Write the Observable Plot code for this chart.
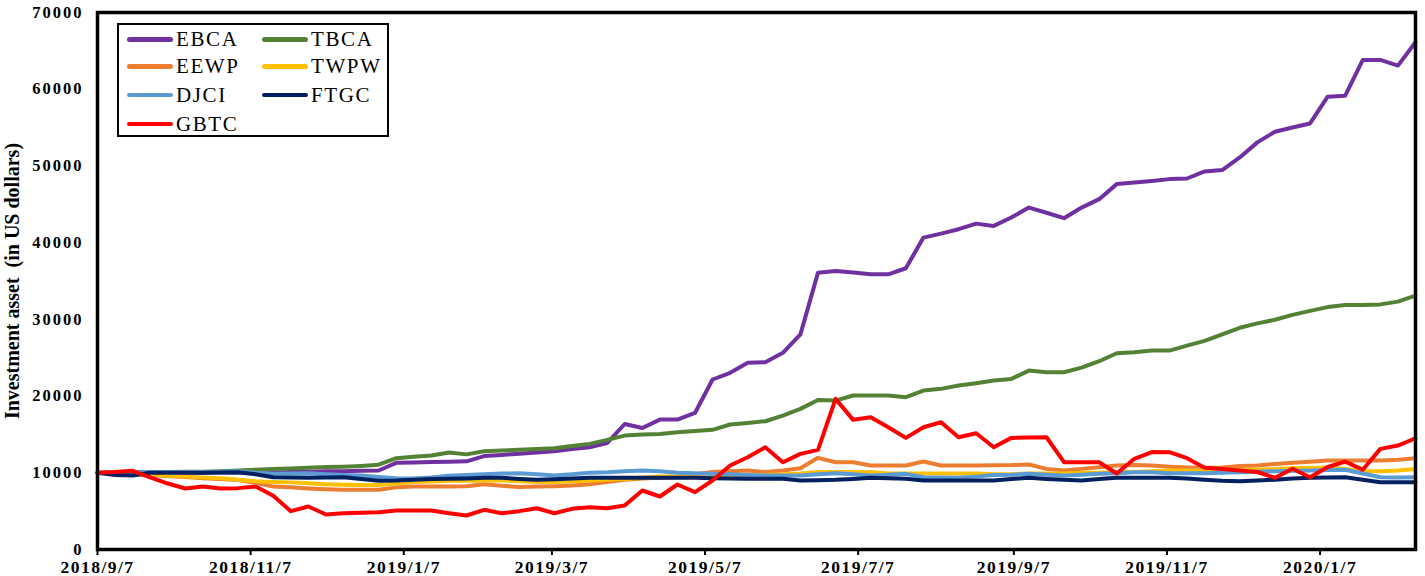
<!DOCTYPE html>
<html>
<head>
<meta charset="utf-8">
<script src="https://cdn.jsdelivr.net/npm/d3@7"></script>
<script src="https://cdn.jsdelivr.net/npm/@observablehq/plot@0.6"></script>
<style>
  html, body { margin: 0; padding: 0; background: #fff; }
  #wrap { position: relative; width: 1425px; height: 576px; }
  #legend { position: absolute; left: 117px; top: 23px; width: 272px; height: 114px;
            border: 2.7px solid #000; box-sizing: border-box; background: #fff; }
  .item { position: absolute; display: flex; align-items: center; height: 26px; transform: translateY(-50%);
          font-family: "Liberation Serif", "Times New Roman", serif; font-size: 21px; letter-spacing: 1.6px; color: #000; }
  .item .sw { display: inline-block; width: 46px; height: 4.5px; border-radius: 3px; margin-right: 3px; }
  g[aria-label="x-axis tick label"] text { letter-spacing: 1.5px; }
  g[aria-label="y-axis tick label"] text { letter-spacing: 2px; }
  g[aria-label="y-axis label"] text { white-space: pre; }
</style>
</head>
<body>
<div id="wrap"><div id="legend"></div></div>
<script>
const dates = [
  "2018-09-07","2018-09-14","2018-09-21","2018-09-28","2018-10-05","2018-10-12","2018-10-19","2018-10-26",
  "2018-11-02","2018-11-09","2018-11-16","2018-11-23","2018-11-30","2018-12-07","2018-12-14","2018-12-21",
  "2018-12-28","2019-01-04","2019-01-11","2019-01-18","2019-01-25","2019-02-01","2019-02-08","2019-02-15",
  "2019-02-22","2019-03-01","2019-03-08","2019-03-15","2019-03-22","2019-03-29","2019-04-05","2019-04-12",
  "2019-04-19","2019-04-26","2019-05-03","2019-05-10","2019-05-17","2019-05-24","2019-05-31","2019-06-07",
  "2019-06-14","2019-06-21","2019-06-28","2019-07-05","2019-07-12","2019-07-19","2019-07-26","2019-08-02",
  "2019-08-09","2019-08-16","2019-08-23","2019-08-30","2019-09-06","2019-09-13","2019-09-20","2019-09-27",
  "2019-10-04","2019-10-11","2019-10-18","2019-10-25","2019-11-01","2019-11-08","2019-11-15","2019-11-22",
  "2019-11-29","2019-12-06","2019-12-13","2019-12-20","2019-12-27","2020-01-03","2020-01-10","2020-01-17",
  "2020-01-24","2020-01-31","2020-02-07","2020-02-14"
];

const EBCA = [
  10000, 9950,10000,10000,10000,10000,10000,10050,10050,10050,
  10050,10100,10150,10200,10200,10250,10300,11300,11330,11400,
  11450,11490,12180,12330,12480,12650,12800,13100,13330,13880,
  16360,15840,16930,16930,17800,22160,23030,24330,24420,25640,
  28040,36090,36310,36100,35870,35870,36660,40660,41180,41750,
  42480,42180,43270,44570,43900,43190,44570,45670,47630,47840,
  48050,48280,48360,49280,49460,51110,53070,54460,55000,55540,
  59030,59160,63820,63820,63080,66120
];
const TBCA = [
  10000,10000,10050,10100,10100,10150,10150,10200,10300,10400,
  10500,10550,10650,10750,10800,10900,11050,11900,12100,12250,
  12650,12400,12800,12900,13000,13100,13200,13500,13770,14290,
  14850,15000,15070,15290,15450,15600,16290,16500,16720,17460,
  18330,19500,19410,20070,20070,20070,19850,20720,20940,21370,
  21670,22020,22240,23320,23100,23100,23700,24540,25580,25700,
  25930,25930,26580,27200,28050,28900,29480,29950,30590,31100,
  31600,31880,31880,31950,32310,33100
];
const EEWP = [
  10000, 9950, 9800, 9700, 9550, 9450, 9300, 9200, 9050, 8700,
   8200, 8100, 7950, 7850, 7800, 7800, 7800, 8100, 8200, 8200,
   8200, 8250, 8500, 8300, 8150, 8200, 8250, 8350, 8500, 8800,
   9100, 9250, 9350, 9420, 9800,10100,10200,10290,10100,10300,
  10600,11950,11380,11380,10950,10950,10950,11470,10950,10950,
  10950,10980,11000,11080,10510,10290,10510,10720,10950,11000,
  10950,10800,10700,10650,10700,10900,10950,11160,11300,11450,
  11600,11600,11600,11600,11700,11900
];
const TWPW = [
  10000,10000,10000, 9800, 9600, 9500, 9400, 9300, 9100, 8900,
   8800, 8750, 8650, 8500, 8450, 8400, 8400, 8600, 8800, 8850,
   8950, 8950, 9000, 9000, 8900, 8800, 8800, 8850, 9000, 9100,
   9200, 9400, 9500, 9500, 9600, 9600, 9700, 9700, 9700, 9800,
   9900,10100,10100,10100,10100, 9900, 9900, 9900, 9900, 9900,
   9900, 9800, 9800, 9900, 9900, 9900,10000,10000,10100,10100,
  10200,10300,10300,10300,10350,10400,10400,10500,10600,10650,
  10650,10500,10200,10200,10300,10500
];
const DJCI = [
  10000,10000,10100,10100,10100,10100,10100,10150,10200,10000,
   9860, 9900, 9940, 9800, 9700, 9640, 9450, 9300, 9250, 9400,
   9600, 9700, 9800, 9900, 9940, 9800, 9640, 9800,10000,10070,
  10200,10290,10200,10000, 9940, 9860, 9800, 9700, 9640, 9640,
   9640, 9800, 9940, 9800, 9640, 9750, 9860, 9420, 9380, 9340,
   9500, 9700, 9750, 9860, 9750, 9640, 9750, 9860, 9950,10070,
  10070, 9940, 9940, 9940,10000,10070,10150,10200,10250,10290,
  10350,10390, 9900, 9420, 9400, 9420
];
const FTGC = [
  10000, 9700, 9650,10000,10000,10000,10000,10050,10070, 9800,
   9420, 9380, 9340, 9380, 9420, 9200, 8950, 8990, 9100, 9200,
   9210, 9250, 9340, 9340, 9200, 9080, 9150, 9250, 9340, 9340,
   9340, 9340, 9340, 9340, 9340, 9300, 9250, 9220, 9210, 9210,
   8990, 9030, 9080, 9200, 9340, 9280, 9210, 8990, 8990, 8990,
   8990, 9000, 9200, 9340, 9200, 9080, 8990, 9200, 9340, 9340,
   9340, 9340, 9250, 9080, 8950, 8900, 9000, 9100, 9250, 9340,
   9400, 9420, 9100, 8770, 8770, 8770
];
const GBTC = [
  10000,10100,10250, 9400, 8600, 7950, 8200, 7950, 8000, 8200,
   7000, 5000, 5600, 4560, 4730, 4800, 4860, 5080, 5080, 5080,
   4730, 4430, 5170, 4730, 5000, 5380, 4730, 5300, 5510, 5380,
   5730, 7690, 6910, 8470, 7470, 8990,10950,12030,13330,11380,
  12470,12990,19630,16900,17240,15940,14550,15940,16590,14630,
  15160,13330,14550,14600,14630,11380,11380,11380, 9900,11820,
  12700,12680,11900,10650,10500,10300,10100, 9340,10520, 9420,
  10750,11450,10390,13120,13550,14500
];

const seriesNames  = ["EBCA","TBCA","EEWP","TWPW","DJCI","FTGC","GBTC"];
const seriesValues = [EBCA, TBCA, EEWP, TWPW, DJCI, FTGC, GBTC];
const seriesColors = ["#7030A0","#548235","#ED7D31","#FFC000","#5B9BD5","#002060","#FF0000"];
const xTicks = ["2018-09-07","2018-11-07","2019-01-07","2019-03-07","2019-05-07","2019-07-07","2019-09-07","2019-11-07","2020-01-07"];
const yTicks = [0,10000,20000,30000,40000,50000,60000,70000];
const xDomain = ["2018-09-07","2020-02-14"];
const yLabel = "Investment asset  (in US dollars)";

const rows = seriesNames.map((name, k) =>
  dates.map((d, i) => ({date: new Date(d), value: seriesValues[k][i], series: name})));

const serif = "'Liberation Serif', 'Times New Roman', serif";

const chart = Plot.plot({
  width: 1425,
  height: 576,
  marginLeft: 97,
  marginRight: 10,
  marginTop: 12,
  marginBottom: 27,
  style: {fontFamily: serif, fontWeight: "bold", color: "#000", background: "#fff", overflow: "visible"},
  x: {type: "utc", domain: xDomain.map(d => new Date(d))},
  y: {domain: [0, 70000]},
  color: {domain: seriesNames, range: seriesColors},
  marks: [
    ...rows.map(r => Plot.line(r, {x: "date", y: "value", stroke: "series", strokeWidth: 4,
                                   strokeLinejoin: "round", strokeLinecap: "round"})),
    Plot.frame({stroke: "#000", strokeWidth: 3.5}),
    Plot.axisX({ticks: xTicks.map(d => new Date(d)),
                tickFormat: d => `${d.getUTCFullYear()}/${d.getUTCMonth() + 1}/${d.getUTCDate()}`,
                tickSize: 6, tickPadding: 5, strokeWidth: 2, fontSize: 17.5, label: null}),
    Plot.axisY({ticks: yTicks, tickFormat: d => String(d), tickSize: 0, tickPadding: 14,
                fontSize: 16.5, label: yLabel, labelAnchor: "center", labelArrow: "none", labelOffset: 93})
  ]
});
chart.querySelectorAll('g[aria-label="y-axis label"] text').forEach(t => { t.style.fontSize = "20px"; });
document.getElementById("wrap").prepend(chart);
chart.style.position = "absolute"; chart.style.left = "0"; chart.style.top = "0";

const legend = document.getElementById("legend");
const rowTops = [14.5, 41.5, 70, 99];
const colLefts = [8, 143];
seriesNames.forEach((name, k) => {
  const it = document.createElement("div");
  it.className = "item";
  it.style.top = rowTops[Math.floor(k / 2)] + "px";
  it.style.left = colLefts[k % 2] + "px";
  const sw = document.createElement("span");
  sw.className = "sw";
  sw.style.background = seriesColors[k];
  it.appendChild(sw);
  it.appendChild(document.createTextNode(name));
  legend.appendChild(it);
});
</script>
</body>
</html>
